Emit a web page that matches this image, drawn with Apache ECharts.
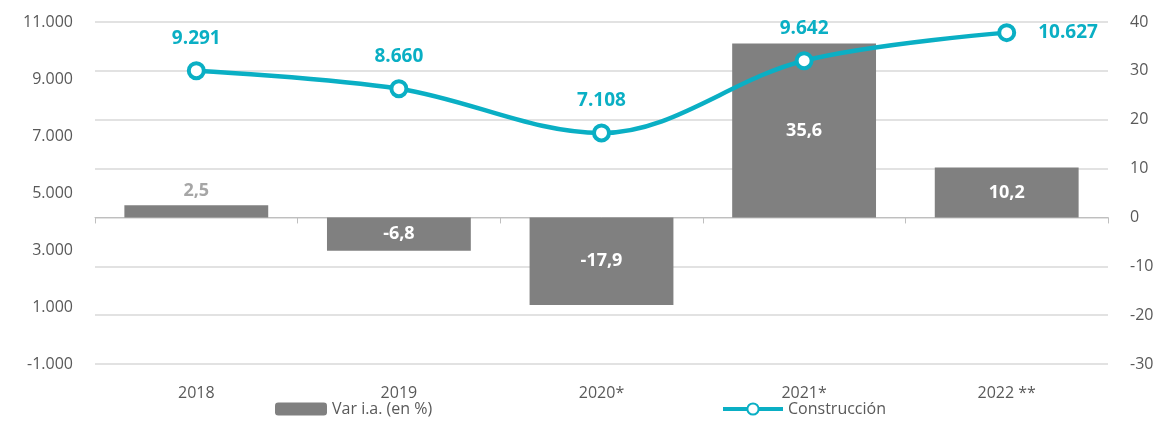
<!DOCTYPE html>
<html>
<head>
<meta charset="utf-8">
<script src="https://cdn.jsdelivr.net/npm/echarts@6/dist/echarts.min.js"></script>
<style>
  html, body { margin: 0; padding: 0; background: #fff; }
  #main { width: 1160px; height: 423px; }
</style>
</head>
<body>
<div id="main"></div>
<script>
const years = ["2018", "2019", "2020*", "2021*", "2022 **"];
const variacion = [2.5, -6.8, -17.9, 35.6, 10.2];
const construccion = [9291, 8660, 7108, 9642, 10627];

const FONT = "Open Sans";
const TEAL = "#0aafc4";
const GRAY_TXT = "#595959";

// 1234.5 -> "1.234" ; 2.5 -> "2,5"
function fmtMiles(v) {
  return String(Math.round(v)).replace(/\B(?=(\d{3})+(?!\d))/g, ".");
}
function fmtDec(v) {
  return v.toFixed(1).replace(".", ",");
}

const option = {
  animation: false,
  textStyle: { fontFamily: FONT },
  grid: { left: 95, right: 52, top: 22, bottom: 59 },
  legend: [
    {
      data: ["Var i.a. (en %)"],
      left: 270, bottom: 1,
      itemWidth: 52, itemHeight: 13,
      textStyle: { color: GRAY_TXT, fontSize: 16, fontFamily: FONT }
    },
    {
      data: ["Construcción"],
      left: 716, bottom: 1,
      itemWidth: 60, itemHeight: 14,
      lineStyle: { width: 4 },
      textStyle: { color: GRAY_TXT, fontSize: 16, fontFamily: FONT }
    }
  ],
  xAxis: [
    {
      type: "category",
      data: years,
      axisLine: { show: false },
      axisTick: { show: false },
      axisLabel: { color: GRAY_TXT, fontSize: 16, margin: 21 }
    },
    {
      type: "category",
      data: years,
      position: "bottom",
      axisLine: { show: true, onZero: true, onZeroAxisIndex: 1, lineStyle: { color: "#bfbfbf", width: 1 } },
      axisTick: { show: true, length: 6, lineStyle: { color: "#bfbfbf" } },
      axisLabel: { show: false }
    }
  ],
  yAxis: [
    {
      type: "value",
      min: -1000, max: 11000, interval: 2000,
      splitLine: { show: false },
      axisLine: { show: false },
      axisTick: { show: false },
      axisLabel: { color: GRAY_TXT, fontSize: 16, margin: 22, formatter: fmtMiles }
    },
    {
      type: "value",
      min: -30, max: 40, interval: 10,
      splitLine: { show: true, lineStyle: { color: "#d9d9d9", width: 1.5 } },
      axisLine: { show: false },
      axisTick: { show: false },
      axisLabel: { color: GRAY_TXT, fontSize: 16, margin: 22 }
    }
  ],
  series: [
    {
      name: "Var i.a. (en %)",
      type: "bar",
      yAxisIndex: 1,
      barWidth: "71%",
      itemStyle: { color: "#808080" },
      data: variacion.map((v, i) => ({
        value: v,
        label: i === 0
          ? { position: "top", color: "#a6a6a6", distance: 5 }
          : { position: "inside", color: "#fff" }
      })),
      label: {
        show: true,
        fontSize: 18, fontWeight: "bold", fontFamily: FONT,
        formatter: (p) => fmtDec(p.value)
      }
    },
    {
      name: "Construcción",
      type: "line",
      yAxisIndex: 0,
      smooth: 0.35,
      symbol: "circle",
      symbolSize: 15,
      lineStyle: { color: TEAL, width: 4.5 },
      itemStyle: { color: "#fff", borderColor: TEAL, borderWidth: 4 },
      z: 5,
      data: construccion.map((v, i) => ({
        value: v,
        label: i === construccion.length - 1
          ? { position: "right", distance: 22 }
          : { position: "top", distance: 13 }
      })),
      label: {
        show: true,
        color: TEAL, fontSize: 19, fontWeight: "bold", fontFamily: FONT,
        formatter: (p) => fmtMiles(p.value)
      }
    }
  ]
};

const myChart = echarts.init(document.getElementById("main"));
myChart.setOption(option);
</script>
</body>
</html>
